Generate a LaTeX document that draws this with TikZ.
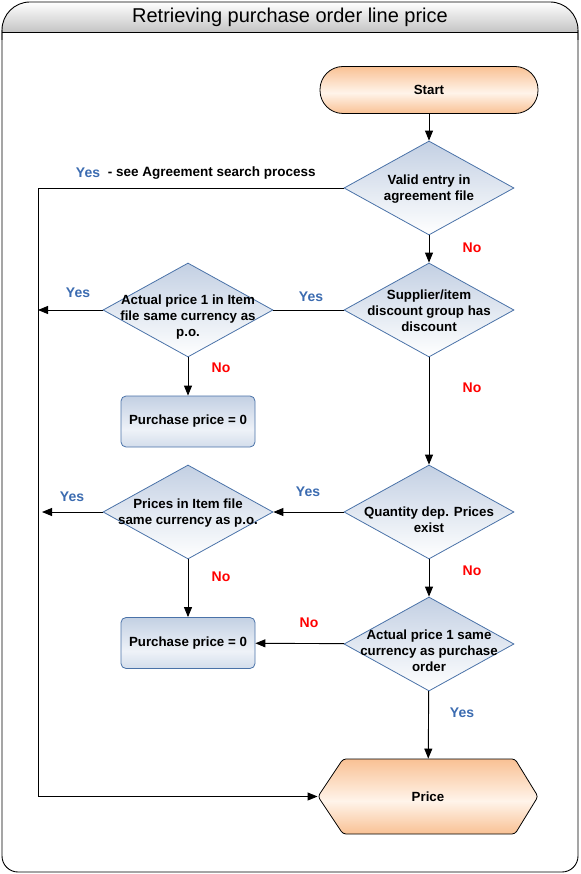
\documentclass[tikz,border=0pt]{standalone}
\usepackage{fontspec}
\setmainfont{Liberation Sans}
\usetikzlibrary{shapes.geometric,arrows.meta}

\definecolor{diaedge}{HTML}{4A72A8}
\definecolor{diatop}{HTML}{C3D0E3}
\definecolor{boxmid}{HTML}{EEF2F8}
\definecolor{boxbot}{HTML}{D3DDEB}
\definecolor{yesblue}{HTML}{3B6BB0}
\definecolor{orng}{HTML}{F9C194}
\definecolor{orngpale}{HTML}{FFF4EA}
\definecolor{titlegray}{HTML}{C4C4C4}

\pgfdeclareverticalshading{orngshade}{100bp}{color(0bp)=(orng); color(25bp)=(orng);
  color(47bp)=(orngpale); color(75bp)=(orng); color(100bp)=(orng)}
\pgfdeclareverticalshading{boxshade}{100bp}{color(0bp)=(boxbot); color(25bp)=(boxbot);
  color(42bp)=(boxmid); color(75bp)=(diatop); color(100bp)=(diatop)}

\tikzset{
  dia/.style={diamond, draw=diaedge, line width=0.8pt, top color=diatop,
    bottom color=white, minimum width=170pt, minimum height=94pt, inner sep=0pt},
  dtext/.style={font=\bfseries\fontsize{13.3}{16}\selectfont, align=center},
  pbox/.style={rectangle, rounded corners=5pt, draw=diaedge, line width=0.8pt,
    shading=boxshade, minimum width=134pt, minimum height=51pt,
    font=\bfseries\fontsize{13.3}{16}\selectfont},
  term/.style={rectangle, rounded corners=23pt, draw, line width=0.8pt,
    shading=orngshade, minimum width=218pt, minimum height=47pt,
    font=\bfseries\fontsize{13.3}{16}\selectfont},
  yes/.style={text=yesblue, font=\bfseries\fontsize{14}{16}\selectfont},
  no/.style={text=red, font=\bfseries\fontsize{14}{16}\selectfont},
  note/.style={font=\bfseries\fontsize{13.5}{16}\selectfont},
}

\begin{document}
\begin{tikzpicture}[x=1pt,y=-1pt,line width=0.9pt,>={Triangle[length=10pt,width=8pt]}]
  \useasboundingbox (0,0) rectangle (580,874);
  % frame and title bar
  \shade[rounded corners=28pt, top color=white, bottom color=titlegray] (2,32) -- (2,2) -- (578,2) -- (578,32);
  \draw[rounded corners=28pt] (2,40) -- (2,2) -- (578,2) -- (578,40);
  \draw[rounded corners=16pt] (2,30) -- (2,872) -- (578,872) -- (578,30);
  \draw (2,32) -- (578,32);
  \node[font=\fontsize{20}{22}\selectfont] (title) at (290,17) {Retrieving purchase order line price};

  % shapes
  \node[term] (start) at (429,90) {Start};
  \node[dia] (agree) at (429,188) {};
  \node[dtext] (agree-t) at (429,189) {Valid entry in\\agreement file};
  \node[dia] (discount) at (429,310) {};
  \node[dtext] (discount-t) at (429,311) {Supplier/item\\discount group has\\discount};
  \node[dia] (actual) at (188,310) {};
  \node[dtext] (actual-t) at (188,317) {Actual price 1 in Item\\file same currency as\\p.o.};
  \node[pbox] (zero1) at (188,421.5) {Purchase price = 0};
  \node[dia] (qtydep) at (429,512) {};
  \node[dtext] (qtydep-t) at (429,520) {Quantity dep. Prices\\exist};
  \node[dia] (itemcur) at (188,512) {};
  \node[dtext] (itemcur-t) at (188,513) {Prices in Item file\\same currency as p.o.};
  \node[pbox] (zero2) at (188,643) {Purchase price = 0};
  \node[dia] (actcur) at (429,644) {};
  \node[dtext] (actcur-t) at (429,651) {Actual price 1 same\\currency as purchase\\order};
  \draw[rounded corners=3pt, line width=0.8pt, shading=orngshade]
    (318,796.5) -- (343,759) -- (515,759) -- (538,796.5) -- (515,834) -- (343,834) -- cycle;
  \node[minimum width=220pt, minimum height=75pt, font=\bfseries\fontsize{13.3}{16}\selectfont] (price) at (428,796.5) {Price};

  % connectors
  \coordinate (bend) at (38,188);
  \draw[->] (start) -- (agree);
  \draw[->] (agree.west) -- (bend) |- (price.west);
  \draw[->] (agree) -- (discount);
  \draw (discount) -- (actual);
  \draw[->] (actual.west) -- (actual.west -| bend);
  \draw[->] (actual) -- (zero1);
  \draw[->] (discount) -- (qtydep);
  \draw[->] (qtydep) -- (itemcur);
  \draw[->] (itemcur.west) -- ([xshift=4pt]itemcur.west -| bend);
  \draw[->] (itemcur) -- (zero2);
  \draw[->] (qtydep) -- (actcur);
  \draw[->] (actcur) -- (zero2);
  \draw[->] (actcur) -- (price);

  % branch labels
  \node[yes] (yes1) at (88,173) {Yes};
  \node[note, anchor=west] (seeagr) at (104,173) {- see Agreement search process};
  \node[no] (no1) at (472,248) {No};
  \node[yes] (yes2) at (311,297) {Yes};
  \node[yes] (yes3) at (78,293) {Yes};
  \node[no] (no2) at (221,368) {No};
  \node[no] (no3) at (472,388) {No};
  \node[yes] (yes4) at (308,492) {Yes};
  \node[yes] (yes5) at (72,497) {Yes};
  \node[no] (no4) at (472,571) {No};
  \node[no] (no5) at (221,577) {No};
  \node[no] (no6) at (309,623) {No};
  \node[yes] (yes6) at (462,713) {Yes};
\end{tikzpicture}
\end{document}
